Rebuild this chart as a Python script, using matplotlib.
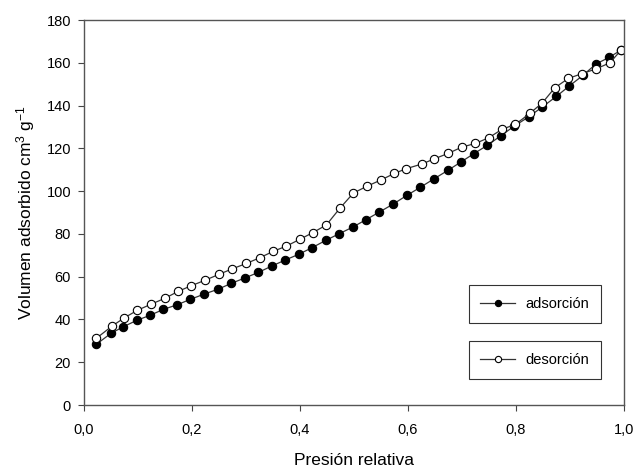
import numpy as np
import matplotlib
matplotlib.use("Agg")
import matplotlib.pyplot as plt

plt.rcParams['font.family'] = ['Liberation Sans', 'DejaVu Sans']
plt.rcParams['mathtext.default'] = 'regular'

# adsorcion (filled)
p_ads = [0.023, 0.050, 0.073, 0.098, 0.122, 0.147, 0.173, 0.197, 0.222, 0.249,
         0.273, 0.298, 0.323, 0.348, 0.373, 0.398, 0.422, 0.448, 0.472, 0.498,
         0.522, 0.547, 0.573, 0.598, 0.623, 0.648, 0.674, 0.698, 0.722, 0.747,
         0.772, 0.797, 0.824, 0.848, 0.875, 0.898, 0.924, 0.948, 0.973, 0.995]
v_ads = [28.4, 33.5, 36.6, 39.6, 41.9, 44.7, 46.9, 49.4, 51.8, 54.2,
         56.9, 59.4, 62.0, 65.0, 67.8, 70.5, 73.5, 77.0, 80.0, 83.2,
         86.6, 90.2, 94.0, 98.0, 101.8, 105.7, 109.7, 113.6, 117.5, 121.4,
         125.9, 130.4, 134.8, 139.2, 144.3, 149.0, 154.1, 159.4, 162.6, 166.0]

# desorcion (open)
p_des = [0.023, 0.052, 0.075, 0.099, 0.124, 0.150, 0.175, 0.199, 0.225, 0.251,
         0.275, 0.301, 0.326, 0.351, 0.375, 0.400, 0.424, 0.449, 0.474, 0.499,
         0.525, 0.550, 0.575, 0.597, 0.626, 0.649, 0.675, 0.700, 0.725, 0.750,
         0.774, 0.799, 0.826, 0.849, 0.872, 0.897, 0.922, 0.948, 0.974, 0.995]
v_des = [31.2, 36.9, 40.8, 44.3, 47.1, 49.9, 53.2, 55.8, 58.4, 61.2,
         63.7, 66.2, 68.9, 71.9, 74.3, 77.5, 80.6, 84.2, 92.0, 99.1,
         102.4, 105.2, 108.3, 110.5, 112.7, 115.1, 117.7, 120.6, 122.3, 125.0,
         128.9, 131.2, 136.4, 141.3, 148.3, 152.7, 154.9, 157.1, 160.0, 166.0]

xticks = [0.0, 0.2, 0.4, 0.6, 0.8, 1.0]
xtick_labels = ["0,0", "0,2", "0,4", "0,6", "0,8", "1,0"]
yticks = [0, 20, 40, 60, 80, 100, 120, 140, 160, 180]

fig = plt.figure(figsize=(6.36, 4.68), dpi=100)
ax = fig.add_axes([0.132, 0.1346, 0.849, 0.8226])

l1, = ax.plot(p_ads, v_ads, color="#333333", lw=0.9, marker="o", ms=6,
              mfc="black", mec="black", mew=0.8)
l2, = ax.plot(p_des, v_des, color="#333333", lw=0.9, marker="o", ms=6,
              mfc="white", mec="black", mew=0.8)

ax.set_xlim(0, 1.0)
ax.set_ylim(0, 180)
ax.set_xticks(xticks)
ax.set_xticklabels(xtick_labels)
ax.set_yticks(yticks)
ax.tick_params(direction="out", length=4.3, width=0.8, labelsize=10.5, color="#444444")
ax.tick_params(axis="x", pad=8.5)
ax.tick_params(axis="y", pad=5)
for s in ax.spines.values():
    s.set_color("#555555")
    s.set_linewidth(1.0)

ax.set_xlabel("Presión relativa", fontsize=12.5, labelpad=12)
ax.set_ylabel("Volumen adsorbido cm$^{3}$ g$^{-1}$", fontsize=12.5, labelpad=7)

leg_kw = dict(loc="center", frameon=True, fancybox=False, edgecolor="black",
              fontsize=10.5, handlelength=2.4, borderpad=0.8, borderaxespad=0,
              handletextpad=0.7, markerscale=0.75)
leg1 = ax.legend([l1], ["adsorción"], bbox_to_anchor=(0.835, 0.262), **leg_kw)
leg1.get_frame().set_linewidth(0.8)
ax.add_artist(leg1)
leg2 = ax.legend([l2], ["desorción"], bbox_to_anchor=(0.835, 0.117), **leg_kw)
leg2.get_frame().set_linewidth(0.8)

fig.savefig("out.png", dpi=100)
